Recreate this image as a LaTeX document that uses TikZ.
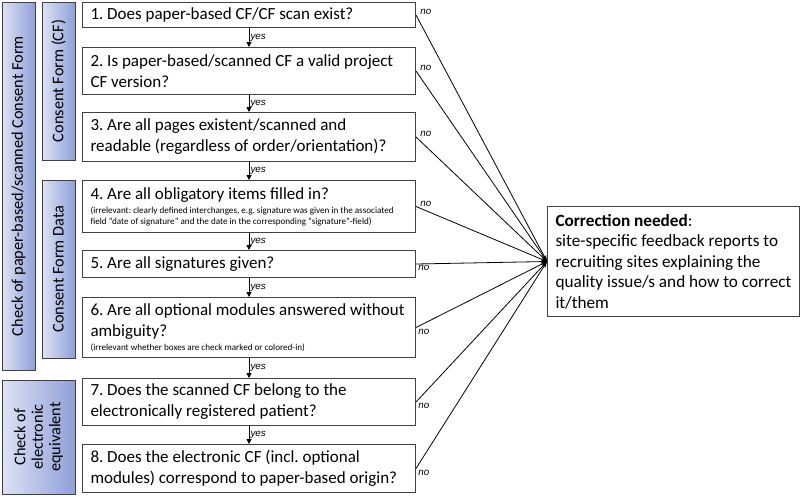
\documentclass[tikz,border=0pt]{standalone}
\usepackage{fontspec}
\setmainfont{Carlito}
\newfontfamily\lblfont{Liberation Sans}
\usetikzlibrary{arrows.meta,positioning}
\frenchspacing
\definecolor{bandtop}{RGB}{143,160,216}
\definecolor{bandbot}{RGB}{222,226,244}
\definecolor{edgegray}{RGB}{64,64,64}
\tikzset{
  band/.style={draw=edgegray, line width=0.8pt, left color=bandbot, right color=bandtop,
    rotate=90, align=center, inner sep=0pt, font=\fontsize{16.3}{17.5}\selectfont},
  qbox/.style={draw=edgegray, line width=1pt, anchor=north west, text width=317pt,
    inner xsep=8pt, inner ysep=0pt, align=flush left, font=\fontsize{17}{21}\selectfont},
  yesarr/.style={-{Triangle[length=5pt,width=5pt]}, line width=1pt},
  noarr/.style={-{Stealth[length=6pt,width=4pt]}, line width=0.8pt},
  ans/.style={font=\lblfont\itshape\fontsize{9.8}{11}\selectfont, inner sep=1pt},
}
\newcommand{\smallnote}[1]{{\fontsize{9.1}{10.5}\selectfont #1\par}}
\begin{document}
\begin{tikzpicture}[x=1pt,y=-1pt]
  \useasboundingbox (0,0) rectangle (800,496);
  % side bands
  \node[band, minimum width=368, minimum height=33] (chkall) at (18.5,186) {Check of paper-based/scanned Consent Form};
  \node[band, minimum width=158, minimum height=33] (cfband) at (58.5,81) {Consent Form (CF)};
  \node[band, minimum width=178, minimum height=33] (databand) at (58.5,269) {Consent Form Data};
  \node[band, minimum width=114, minimum height=73] (elband) at (38.5,437) {Check of\\electronic\\equivalent};
  % questions
  \node[qbox, minimum height=25] (q1) at (82,2) {1. Does paper-based CF/CF scan exist?};
  \node[qbox, minimum height=47] (q2) at (82,47) {2. Is paper-based/scanned CF a valid project\\CF version?};
  \node[qbox, minimum height=49] (q3) at (82,112) {3. Are all pages existent/scanned and\\readable (regardless of order/orientation)?};
  \node[qbox, minimum height=52] (q4) at (82,180) {4. Are all obligatory items filled in?\\[4pt]
    \smallnote{(irrelevant: clearly defined interchanges, e.g. signature was given in the associated\\field ``date of signature'' and the date in the corresponding ``signature''-field)}};
  \node[qbox, minimum height=27] (q5) at (82,250) {5. Are all signatures given?};
  \node[qbox, minimum height=60] (q6) at (82,297) {6. Are all optional modules answered without\\ambiguity?\\[3pt]
    \smallnote{(irrelevant whether boxes are check marked or colored-in)}};
  \node[qbox, minimum height=47] (q7) at (82,378) {7. Does the scanned CF belong to the\\electronically registered patient?};
  \node[qbox, minimum height=48] (q8) at (82,444) {8. Does the electronic CF (incl. optional\\modules) correspond to paper-based origin?};
  % outcome
  \node[draw=edgegray, line width=1pt, anchor=north west, text width=236pt, inner xsep=8pt,
    inner ysep=0pt, minimum height=110, align=flush left, font=\fontsize{17.2}{20.5}\selectfont] (corr) at (547,206)
    {\textbf{Correction needed}:\\site-specific feedback reports to\\recruiting sites explaining the\\quality issue/s and how to correct\\it/them};
  % yes arrows
  \foreach \a/\b in {q1/q2,q2/q3,q3/q4,q4/q5,q5/q6,q6/q7,q7/q8}
    \draw[yesarr] (\a.south) -- node[ans, right] {yes} (\b.north);
  % no arrows
  \foreach \q in {q1,q2,q3,q4}
    \draw[noarr] (\q.east) -- node[ans, pos=0, anchor=west, xshift=3pt, yshift=3pt] {no} (corr.west);
  \draw[noarr] (q5.east) -- node[ans, pos=0, anchor=north west, xshift=1pt] {no} (corr.west);
  \foreach \q in {q6,q7,q8}
    \draw[noarr] (\q.east) -- node[ans, pos=0, anchor=west, xshift=1pt, yshift=-4pt] {no} (corr.west);
\end{tikzpicture}
\end{document}
